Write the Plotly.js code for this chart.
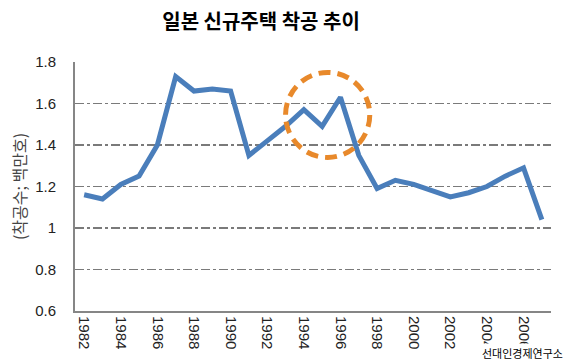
<!DOCTYPE html>
<html>
<head>
<meta charset="utf-8">
<script src="https://cdn.plot.ly/plotly-3.0.1.min.js"></script>
<style>html,body{margin:0;padding:0;background:#fff;}#chart{width:570px;height:364px;}</style>
</head>
<body>
<div id="chart"></div>
<script>
const years = ["1982","1983","1984","1985","1986","1987","1988","1989","1990","1991","1992","1993","1994","1995","1996","1997","1998","1999","2000","2001","2002","2003","2004","2005","2006","2007"];
const starts = [1.16,1.14,1.21,1.25,1.40,1.73,1.66,1.67,1.66,1.35,1.42,1.49,1.57,1.49,1.63,1.35,1.19,1.23,1.21,1.18,1.15,1.17,1.20,1.25,1.29,1.04];
const tickYears = ["1982","1984","1986","1988","1990","1992","1994","1996","1998","2000","2002","2004","2006"];
const titleText = "일본 신규주택 착공 추이";
const yTitle = "(착공수; 백만호)";
const sourceText = "선대인경제연구소";

const trace = {
  x: years, y: starts, type: "scatter", mode: "lines",
  line: {color: "#4A7EBB", width: 5},
  hoverinfo: "skip"
};

const layout = {
  width: 570, height: 364,
  margin: {l: 75, r: 19, t: 62, b: 53},
  paper_bgcolor: "#fff", plot_bgcolor: "#fff",
  showlegend: false,
  title: {text: "<b>" + titleText + "</b>", x: 0.458, xanchor: "center", y: 0.94, yanchor: "middle",
          font: {family: "Noto Sans CJK KR", size: 20, color: "#000"}},
  xaxis: {
    type: "category", range: [-0.5, 25.5],
    tickmode: "array", tickvals: tickYears, ticktext: tickYears,
    tickangle: 90, showgrid: false, zeroline: false,
    showline: true, linecolor: "#868686", linewidth: 2,
    ticks: "", ticklen: 0,
    tickfont: {family: "Liberation Sans, Arial", size: 15, color: "#222"}
  },
  yaxis: {
    range: [0.6, 1.8], dtick: 0.2, tick0: 0.6,
    showgrid: true, gridcolor: "#7a7a7a", gridwidth: 1.5, griddash: "dashdot",
    zeroline: false, showline: true, linecolor: "#868686", linewidth: 2,
    ticks: "", ticklabelstandoff: 14,
    tickfont: {family: "Liberation Sans, Arial", size: 15, color: "#222"},
    title: {text: yTitle, standoff: 5, font: {family: "Noto Sans CJK KR", size: 16, color: "#444"}}
  },
  shapes: [{
    type: "circle", xref: "x", yref: "y",
    x0: 11.0, x1: 15.6, y0: 1.34, y1: 1.75,
    line: {color: "#E8892B", width: 5, dash: "12px,7px"}
  }],
  annotations: [{
    text: sourceText, xref: "paper", yref: "paper", x: 1.03, y: -0.17,
    xanchor: "right", yanchor: "middle", showarrow: false,
    bgcolor: "#fff",
    font: {family: "Noto Sans CJK KR", size: 11, color: "#000"}
  }]
};

Plotly.newPlot("chart", [trace], layout, {displayModeBar: false, staticPlot: true});
</script>
</body>
</html>
